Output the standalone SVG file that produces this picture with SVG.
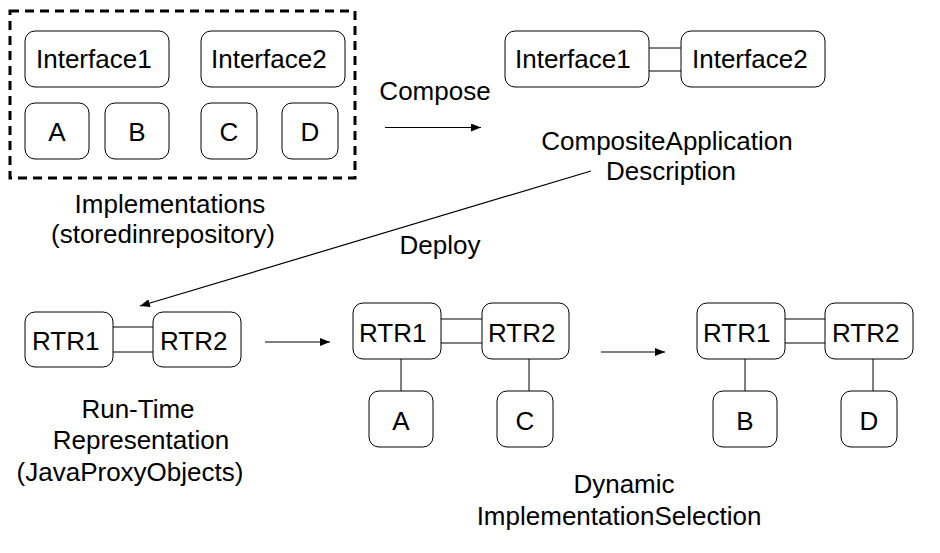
<svg xmlns="http://www.w3.org/2000/svg" width="940" height="553" viewBox="0 0 940 553">
<defs>
<marker id="ah" markerWidth="10" markerHeight="8" refX="10" refY="4" orient="auto" markerUnits="userSpaceOnUse">
<path d="M0,0 L10,4 L0,8 Z" fill="#000"/>
</marker>
</defs>
<style>
.b{fill:#fff;stroke:#000;stroke-width:1}
.t{font-family:"Liberation Sans",Arial,sans-serif;font-size:26px;fill:#000}
.m{text-anchor:middle}
.l{stroke:#000;stroke-width:1;fill:none}
.a{stroke:#000;stroke-width:1.2;fill:none;marker-end:url(#ah)}
</style>
<rect x="10" y="11" width="345" height="167" fill="none" stroke="#000" stroke-width="3" stroke-dasharray="9,6"/>
<g id="repo">
<g id="r-if1"><rect class="b" x="25" y="31" width="144" height="56" rx="10"/><text class="t" x="36" y="68">Interface1</text></g>
<g id="r-if2"><rect class="b" x="201" y="31" width="144" height="56" rx="10"/><text class="t" x="211" y="68">Interface2</text></g>
<g id="r-a"><rect class="b" x="25" y="103" width="64" height="56" rx="10"/><text class="t m" x="57" y="141">A</text></g>
<g id="r-b"><rect class="b" x="105" y="103" width="64" height="56" rx="10"/><text class="t m" x="137" y="141">B</text></g>
<g id="r-c"><rect class="b" x="201" y="103" width="56" height="56" rx="10"/><text class="t m" x="229" y="141">C</text></g>
<g id="r-d"><rect class="b" x="282" y="103" width="56" height="56" rx="10"/><text class="t m" x="310" y="141">D</text></g>
</g>
<g id="connectors">
<line class="l" x1="649" y1="48" x2="681" y2="48"/><line class="l" x1="649" y1="71" x2="681" y2="71"/>
<line class="l" x1="113" y1="327" x2="153" y2="327"/><line class="l" x1="113" y1="352" x2="153" y2="352"/>
<line class="l" x1="441" y1="319" x2="482" y2="319"/><line class="l" x1="441" y1="343" x2="482" y2="343"/>
<line class="l" x1="401" y1="359" x2="401" y2="391"/><line class="l" x1="529" y1="359" x2="529" y2="391"/>
<line class="l" x1="785" y1="319" x2="825" y2="319"/><line class="l" x1="785" y1="343" x2="825" y2="343"/>
<line class="l" x1="745" y1="359" x2="745" y2="391"/><line class="l" x1="873" y1="359" x2="873" y2="391"/>
<line class="a" x1="385" y1="127.5" x2="481" y2="127.5"/>
<line class="a" x1="591" y1="171" x2="140" y2="306"/>
<line class="a" x1="265" y1="342" x2="330" y2="342"/>
<line class="a" x1="601" y1="352" x2="665" y2="352"/>
</g>
<g id="comp-if1"><rect class="b" x="505" y="31" width="144" height="56" rx="10"/><text class="t" x="515" y="68">Interface1</text></g>
<g id="comp-if2"><rect class="b" x="681" y="31" width="144" height="56" rx="10"/><text class="t" x="692" y="68">Interface2</text></g>
<g id="l-rtr1"><rect class="b" x="25" y="312" width="88" height="55" rx="10"/><text class="t" x="32" y="350">RTR1</text></g>
<g id="l-rtr2"><rect class="b" x="153" y="312" width="88" height="55" rx="10"/><text class="t" x="160" y="350">RTR2</text></g>
<g id="m-rtr1"><rect class="b" x="353" y="303" width="88" height="56" rx="10"/><text class="t" x="359" y="342">RTR1</text></g>
<g id="m-rtr2"><rect class="b" x="482" y="303" width="87" height="56" rx="10"/><text class="t" x="488" y="342">RTR2</text></g>
<g id="m-a"><rect class="b" x="369" y="391" width="64" height="56" rx="10"/><text class="t m" x="401" y="430">A</text></g>
<g id="m-c"><rect class="b" x="497" y="391" width="56" height="56" rx="10"/><text class="t m" x="525" y="430">C</text></g>
<g id="x-rtr1"><rect class="b" x="697" y="303" width="88" height="56" rx="10"/><text class="t" x="703" y="342">RTR1</text></g>
<g id="x-rtr2"><rect class="b" x="825" y="303" width="88" height="56" rx="10"/><text class="t" x="832" y="342">RTR2</text></g>
<g id="x-b"><rect class="b" x="713" y="391" width="64" height="56" rx="10"/><text class="t m" x="745" y="430">B</text></g>
<g id="x-d"><rect class="b" x="841" y="391" width="56" height="56" rx="10"/><text class="t m" x="869" y="430">D</text></g>
<g id="labels">
<text class="t m" x="435" y="100">Compose</text>
<text class="t m" x="667" y="150">CompositeApplication</text>
<text class="t m" x="671" y="180">Description</text>
<text class="t m" x="170" y="213">Implementations</text>
<text class="t m" x="163" y="243">(storedinrepository)</text>
<text class="t m" x="440" y="254">Deploy</text>
<text class="t m" x="138" y="418">Run-Time</text>
<text class="t m" x="141" y="449">Representation</text>
<text class="t m" x="130" y="481">(JavaProxyObjects)</text>
<text class="t m" x="624" y="493">Dynamic</text>
<text class="t m" x="619" y="525">ImplementationSelection</text>
</g>
</svg>
